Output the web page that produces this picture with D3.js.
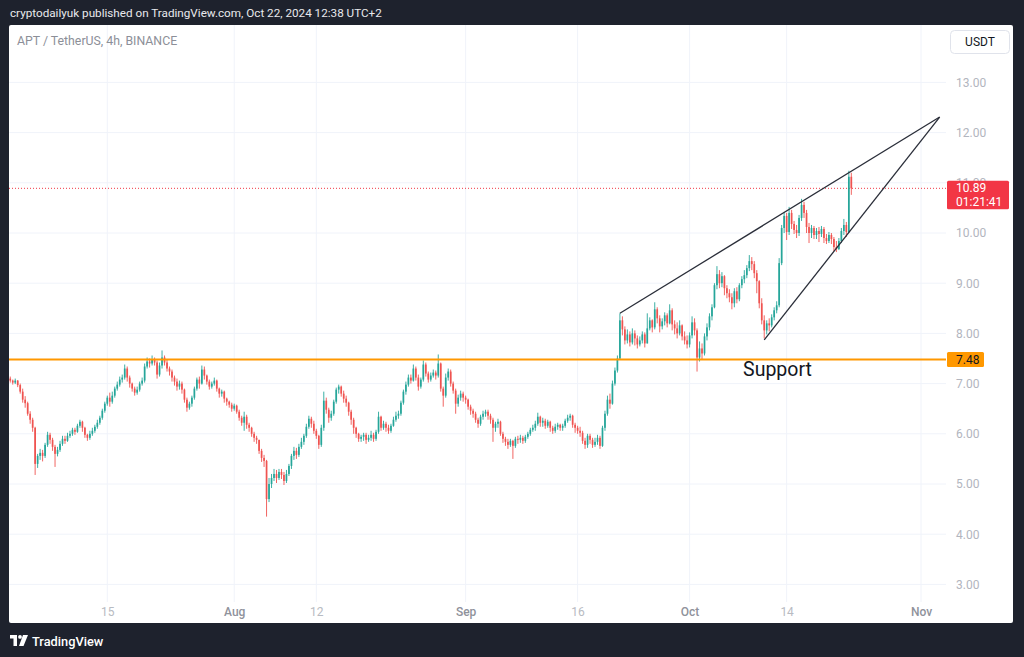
<!DOCTYPE html>
<html lang="en">
  <head>
    <meta charset="utf-8" />
    <title>APT / TetherUS, 4h, BINANCE</title>
    <script type="text/javascript" src="https://d3js.org/d3.v7.min.js"></script>
    <style>
      body { margin: 0; background: #1e222d; }
      svg { display: block; font-family: Roboto, "Noto Sans", sans-serif; }
    </style>
  </head>
  <body>
    <div id="chart"></div>

    <script type="text/javascript">
      /********************************
       * data (prices in US cents)
       ********************************/

      const startTime = "2024-07-02T00:00:00Z";
      const barHours = 8;
      const firstOpen = 710;

      const closes = [
        706,
        702,706,697, 684,668,661, 640,628,612, 540,556,562, 556,578,598, 588,574,560, 568,580,590, 586,596,600,
        608,604,616, 624,612,598, 592,600,606, 614,622,632, 646,660,672, 664,676,690, 698,708,712, 730,712,700,
        690,682,688, 700,706,734, 744,740,748, 742,718,736, 752,742,730, 724,712,704, 694,700,688, 668,652,660,
        672,690,708, 700,728,716, 704,694,700, 706,690,680, 684,670,664, 658,650,656, 644,632,622, 634,618,612,
        600,592,588, 566,552,546, 470,500,512, 520,512,524, 518,506,520, 536,556,566, 558,574,584, 596,614,630,
        620,606,596, 578,612,666, 648,632,640, 664,688,694, 680,670,662, 644,628,612, 600,590,594, 598,588,592,
        598,590,604, 634,612,620, 612,606,616, 628,636,640, 662,684,698, 712,706,730, 712,694,708, 738,720,708,
        716,722,716, 740,690,676, 712,724,700, 686,660,672, 680,672,668, 654,646,640, 628,620,634, 640,644,636,
        628,612,620, 624,600,590, 584,578,586, 576,590,588, 592,586,594, 600,608,612, 620,634,622, 626,616,624,
        612,606,614, 618,612,616, 626,632,636, 618,612,606, 602,586,578, 596,588,578, 584,592,576, 612,640,668,
        660,700,726, 750,826,808, 786,798,782, 800,790,778, 786,798,780, 810,826,812, 848,830,814, 824,836,820,
        846,818,810, 800,816,794, 786,778,796, 822,806,752, 770,760,794, 812,834,852, 896,918,900, 914,890,880,
        872,860,884, 868,896,908, 916,930,944, 938,920,904, 860,826,806, 820,816,832, 846,856,940, 1010,1034,1002,
        1040,1018,1006, 1000,1030,1056, 1040,1012,1000, 1010,996,1004, 998,1008,990, 984,996,988, 972,968,984,
        1004,1016,1002, 1112,1089
      ];

      const highs = [
        714,
        708,710,707, 700,690,675, 664,645,632, 614,560,570, 568,582,604, 602,592,578, 574,586,596, 596,602,606,
        612,612,620, 628,626,614, 600,606,612, 618,628,636, 650,664,676, 682,684,694, 704,714,718, 738,734,716,
        702,694,694, 704,712,740, 752,750,756, 752,746,742, 766,756,748, 734,728,716, 710,706,704, 690,672,664,
        676,694,712, 714,736,734, 718,708,704, 712,708,692, 688,686,672, 666,662,660, 658,648,636, 644,638,622,
        614,604,596, 586,570,558, 548,512,520, 530,528,530, 530,524,528, 540,560,574, 572,580,592, 600,620,636,
        634,626,610, 598,618,684, 672,652,646, 668,692,698, 696,686,676, 664,648,632, 614,602,598, 602,602,598,
        606,602,608, 644,636,626, 624,618,620, 634,644,646, 666,688,704, 718,718,738, 734,718,712, 746,742,724,
        722,728,726, 758,742,694, 720,730,728, 704,690,678, 686,684,676, 670,658,650, 644,632,638, 646,648,648,
        640,632,624, 630,626,604, 594,590,590, 588,594,596, 598,596,598, 604,612,618, 626,642,636, 632,630,628,
        626,616,620, 622,620,620, 630,638,640, 638,622,616, 614,606,592, 600,600,592, 592,598,596, 616,646,676,
        680,706,732, 756,840,834, 814,808,804, 810,806,796, 794,804,802, 840,832,828, 862,852,836, 830,842,840,
        858,850,826, 822,826,818, 804,796,802, 834,830,810, 784,780,800, 820,840,858, 900,934,926, 922,916,896,
        888,880,890, 892,900,914, 926,936,956, 952,944,926, 906,870,836, 826,830,838, 852,864,950, 1016,1042,1040,
        1052,1046,1024, 1016,1036,1068, 1062,1046,1020, 1016,1014,1010, 1012,1014,1012, 998,1002,1000, 992,984,990,
        1010,1028,1022, 1124,1120
      ];

      const lows = [
        702,
        698,699,693, 680,662,652, 636,620,604, 518,532,548, 545,552,574, 580,566,534, 555,564,576, 580,584,592,
        596,598,602, 612,604,592, 586,588,596, 602,610,618, 628,642,656, 654,660,672, 686,694,702, 708,704,692,
        684,676,678, 684,696,702, 730,732,736, 736,710,714, 730,736,724, 716,704,696, 686,688,680, 662,644,648,
        654,668,686, 690,698,708, 698,688,690, 696,684,672, 674,662,656, 652,644,646, 640,626,616, 606,610,604,
        594,584,580, 560,544,534, 435,464,492, 506,502,508, 510,498,502, 516,530,548, 550,554,570, 578,592,610,
        612,600,590, 570,574,606, 640,622,626, 636,660,680, 674,662,654, 636,618,600, 592,584,584, 586,580,584,
        586,584,586, 600,606,608, 604,600,602, 614,624,630, 636,658,678, 694,700,704, 706,686,690, 704,714,702,
        704,712,708, 712,684,654, 672,706,694, 680,640,654, 666,664,660, 648,638,632, 622,612,616, 628,634,628,
        620,584,604, 612,596,582, 576,570,574, 550,572,580, 582,580,582, 590,596,604, 606,616,614, 614,610,612,
        604,600,602, 608,606,606, 612,622,626, 612,602,600, 594,580,570, 572,580,572, 574,578,570, 574,606,636,
        650,658,696, 722,748,796, 778,780,774, 778,776,770, 774,780,772, 780,806,802, 808,820,802, 808,816,812,
        818,806,798, 790,796,786, 778,770,772, 790,796,724, 744,748,756, 786,806,826, 850,888,890, 892,876,870,
        862,848,852, 860,864,890, 900,910,924, 926,910,880, 850,818,790, 798,804,812, 826,840,852, 936,1000,986,
        996,1008,998, 990,994,1024, 1030,1000,980, 990,988,988, 982,992,980, 978,980,978, 964,962,966,
        980,996,992, 1000,1076
      ];

      const priceTicks = [3, 4, 5, 6, 7, 8, 9, 10, 11, 12, 13];
      const dateTicks = ["2024-07-15", "2024-08-01", "2024-08-12", "2024-09-01", "2024-09-16", "2024-10-01", "2024-10-14", "2024-11-01"];
      const dateLabels = ["15", "Aug", "12", "Sep", "16", "Oct", "14", "Nov"];

      const supportPrice = 7.48;
      const lastPrice = 10.89;
      const countdown = "01:21:41";
      const supportLabel = ["2024-10-08T04:00:00Z", 7.29];
      const upperTrend = [["2024-09-21T16:00:00Z", 8.4], ["2024-11-03T12:00:00Z", 12.31]];
      const lowerTrend = [["2024-10-11T00:00:00Z", 7.87], ["2024-11-03T12:00:00Z", 12.31]];

      const headerText = "cryptodailyuk published on TradingView.com, Oct 22, 2024 12:38 UTC+2";
      const legendText = "APT / TetherUS, 4h, BINANCE";

      /***************************
       * create svg
       **************************/

      const width = 1024;
      const height = 657;
      const panel = { left: 9, top: 25, right: 1013, bottom: 623 };
      const plot = { left: 9, top: 25, right: 946, bottom: 602 };

      const svg = d3
        .select("div#chart")
        .append("svg")
        .attr("width", width)
        .attr("height", height);

      svg.append("rect").attr("width", width).attr("height", height).attr("fill", "#1e222d");
      svg
        .append("rect")
        .attr("x", panel.left)
        .attr("y", panel.top)
        .attr("width", panel.right - panel.left)
        .attr("height", panel.bottom - panel.top)
        .attr("rx", 2)
        .attr("fill", "#ffffff");

      svg
        .append("clipPath")
        .attr("id", "plot-clip")
        .append("rect")
        .attr("x", plot.left)
        .attr("y", plot.top)
        .attr("width", plot.right - plot.left)
        .attr("height", plot.bottom - plot.top);

      /****************************
       * scales
       *************************/

      const xScale = d3
        .scaleUtc()
        .domain([new Date("2024-07-15T00:00:00Z"), new Date("2024-11-01T00:00:00Z")])
        .range([107.3, 921]);

      const yScale = d3.scaleLinear().domain([3, 13]).range([584.4, 82.4]);

      const t0 = new Date(startTime).getTime();
      const bars = closes.map((c, i) => {
        const o = (i === 0 ? firstOpen : closes[i - 1]) / 100;
        const cl = c / 100;
        return {
          t: new Date(t0 + i * barHours * 3600e3),
          o: o,
          c: cl,
          h: Math.max(highs[i] / 100, o, cl),
          l: Math.min(lows[i] / 100, o, cl),
        };
      });

      /*********************************
       * grid
       *******************************/
      const grid = svg.append("g").attr("clip-path", "url(#plot-clip)");

      grid
        .selectAll("line.h")
        .data(priceTicks)
        .enter()
        .append("line")
        .attr("x1", plot.left)
        .attr("x2", plot.right)
        .attr("y1", (d) => yScale(d))
        .attr("y2", (d) => yScale(d))
        .attr("stroke", "#f0f3fa");

      grid
        .selectAll("line.v")
        .data(dateTicks)
        .enter()
        .append("line")
        .attr("x1", (d) => xScale(new Date(d)))
        .attr("x2", (d) => xScale(new Date(d)))
        .attr("y1", plot.top)
        .attr("y2", plot.bottom)
        .attr("stroke", "#f0f3fa");

      // last price dotted line
      svg
        .append("line")
        .attr("x1", plot.left)
        .attr("x2", plot.right)
        .attr("y1", yScale(lastPrice))
        .attr("y2", yScale(lastPrice))
        .attr("stroke", "#f23645")
        .attr("stroke-width", 1)
        .attr("stroke-dasharray", "1,2");

      /*********************************
       * candles
       *******************************/
      const bodyW = 1.7;
      const candles = svg
        .append("g")
        .attr("clip-path", "url(#plot-clip)")
        .selectAll("g")
        .data(bars)
        .enter()
        .append("g")
        .attr("fill", (d) => (d.c >= d.o ? "#26a69a" : "#ef5350"))
        .attr("stroke", (d) => (d.c >= d.o ? "#26a69a" : "#ef5350"));

      candles
        .append("line")
        .attr("x1", (d) => xScale(d.t))
        .attr("x2", (d) => xScale(d.t))
        .attr("y1", (d) => yScale(d.h))
        .attr("y2", (d) => yScale(d.l))
        .attr("stroke-width", 0.9);

      candles
        .append("rect")
        .attr("stroke", "none")
        .attr("x", (d) => xScale(d.t) - bodyW / 2)
        .attr("width", bodyW)
        .attr("y", (d) => yScale(Math.max(d.o, d.c)))
        .attr("height", (d) => Math.max(0.8, Math.abs(yScale(d.o) - yScale(d.c))));

      /*********************************
       * drawings
       *******************************/
      const trendLine = d3
        .line()
        .x((d) => xScale(new Date(d[0])))
        .y((d) => yScale(d[1]));

      svg
        .selectAll("path.trend")
        .data([upperTrend, lowerTrend])
        .enter()
        .append("path")
        .attr("class", "trend")
        .attr("d", trendLine)
        .attr("fill", "none")
        .attr("stroke", "#2a2e39")
        .attr("stroke-width", 1.3);

      svg
        .append("line")
        .attr("x1", plot.left)
        .attr("x2", plot.right)
        .attr("y1", yScale(supportPrice))
        .attr("y2", yScale(supportPrice))
        .attr("stroke", "#ff9800")
        .attr("stroke-width", 2);

      svg
        .append("text")
        .attr("x", xScale(new Date(supportLabel[0])))
        .attr("y", yScale(supportLabel[1]))
        .attr("dominant-baseline", "central")
        .attr("font-size", 19.5)
        .attr("fill", "#131722")
        .text("Support");

      /*********************************
       * axes
       *******************************/
      const yAxis = d3
        .axisRight(yScale)
        .tickValues(priceTicks)
        .tickFormat(d3.format(".2f"))
        .tickSize(0)
        .tickPadding(10);

      const yAxisGroup = svg
        .append("g")
        .attr("transform", `translate(${plot.right},0)`)
        .call(yAxis);
      yAxisGroup.select(".domain").remove();
      yAxisGroup
        .selectAll("text")
        .attr("font-family", "Roboto, sans-serif")
        .attr("font-size", 12)
        .attr("fill", "#b2b5be");

      const xAxis = d3
        .axisBottom(xScale)
        .tickValues(dateTicks.map((d) => new Date(d)))
        .tickFormat((d, i) => dateLabels[i])
        .tickSize(0)
        .tickPadding(0);

      const xAxisGroup = svg
        .append("g")
        .attr("transform", `translate(0,607)`)
        .call(xAxis);
      xAxisGroup.select(".domain").remove();
      xAxisGroup
        .selectAll("text")
        .attr("font-family", "Roboto, sans-serif")
        .attr("font-size", 12)
        .attr("font-weight", (d, i) => (isNaN(+dateLabels[i]) ? 500 : 400))
        .attr("fill", (d, i) => (isNaN(+dateLabels[i]) ? "#8f929b" : "#b8bbc2"));

      /*********************************
       * price labels
       *******************************/
      const lastY = yScale(lastPrice);
      svg
        .append("rect")
        .attr("x", 947)
        .attr("y", lastY - 7.5)
        .attr("width", 62)
        .attr("height", 28.5)
        .attr("rx", 1.5)
        .attr("fill", "#f23645");
      svg
        .append("text")
        .attr("x", 956)
        .attr("y", lastY)
        .attr("dominant-baseline", "central")
        .attr("font-size", 12)
        .attr("fill", "#ffffff")
        .text(d3.format(".2f")(lastPrice));
      svg
        .append("text")
        .attr("x", 956)
        .attr("y", lastY + 13.5)
        .attr("dominant-baseline", "central")
        .attr("font-size", 12)
        .attr("fill", "#ffffff")
        .text(countdown);

      const supY = yScale(supportPrice);
      svg
        .append("rect")
        .attr("x", 947)
        .attr("y", supY - 7.5)
        .attr("width", 37)
        .attr("height", 15)
        .attr("rx", 1.5)
        .attr("fill", "#ff9800");
      svg
        .append("text")
        .attr("x", 956)
        .attr("y", supY)
        .attr("dominant-baseline", "central")
        .attr("font-size", 12)
        .attr("fill", "#131722")
        .text(d3.format(".2f")(supportPrice));

      // currency button
      svg
        .append("rect")
        .attr("x", 950.5)
        .attr("y", 30.5)
        .attr("width", 59)
        .attr("height", 23)
        .attr("rx", 4)
        .attr("fill", "#ffffff")
        .attr("stroke", "#e0e3eb");
      svg
        .append("text")
        .attr("x", 980)
        .attr("y", 42)
        .attr("text-anchor", "middle")
        .attr("dominant-baseline", "central")
        .attr("font-size", 12)
        .attr("fill", "#131722")
        .text("USDT");

      /*********************************
       * header, legend, logo
       *******************************/
      svg
        .append("text")
        .attr("x", 10)
        .attr("y", 13)
        .attr("dominant-baseline", "central")
        .attr("font-size", 11.7)
        .attr("fill", "#e8e9ec")
        .text(headerText);

      svg
        .append("text")
        .attr("x", 17)
        .attr("y", 41)
        .attr("dominant-baseline", "central")
        .attr("font-size", 12.3)
        .attr("fill", "#8c8f98")
        .text(legendText);

      const logo = svg.append("g").attr("transform", "translate(10,635)").attr("fill", "#ffffff");
      logo.append("path").attr("d", "M0 0 H7 V11 H3.5 V3.5 H0 Z");
      logo.append("circle").attr("cx", 10).attr("cy", 1.9).attr("r", 1.9);
      logo.append("path").attr("d", "M13 0 H18 L13.5 11 H9 Z");

      svg
        .append("text")
        .attr("x", 32)
        .attr("y", 641)
        .attr("dominant-baseline", "central")
        .attr("font-size", 12.8)
        .attr("font-weight", 500)
        .attr("fill", "#ffffff")
        .text("TradingView");
    </script>
  </body>
</html>
